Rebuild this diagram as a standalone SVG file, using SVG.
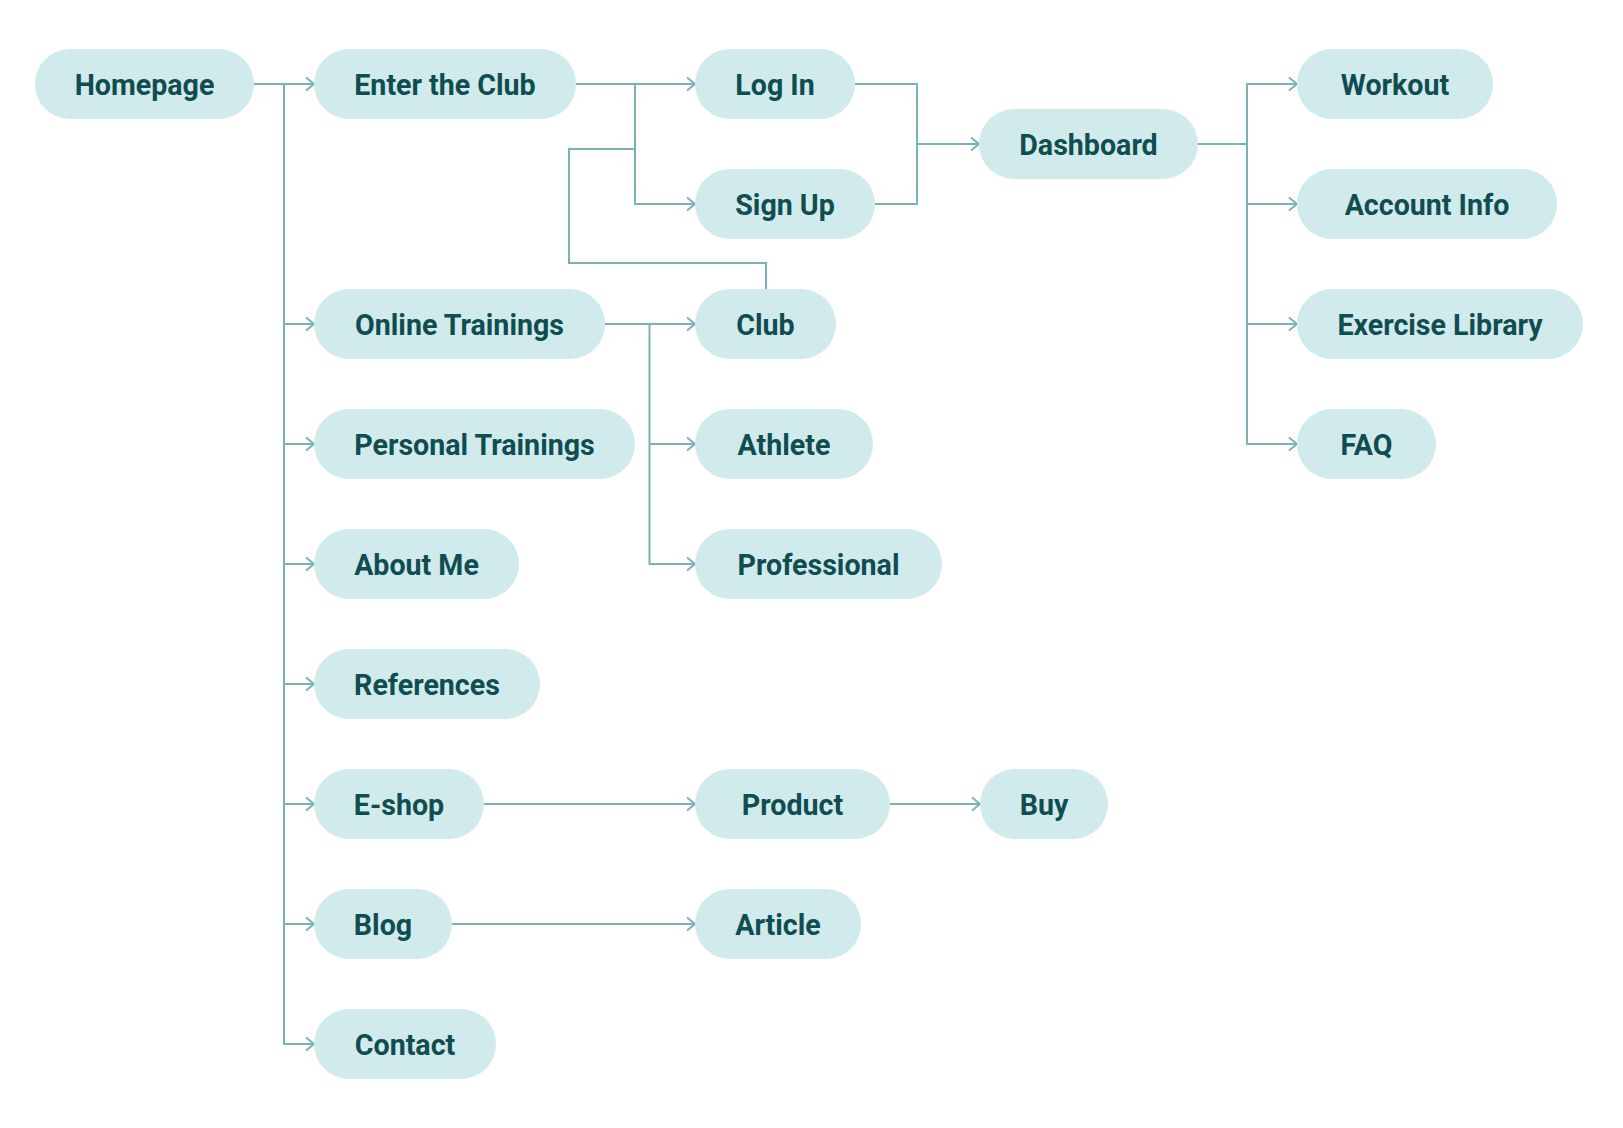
<svg xmlns="http://www.w3.org/2000/svg" width="1623" height="1128" viewBox="0 0 1623 1128">
<style>
.n rect{fill:#d1eaec}
.n text{font-family:Roboto,"Liberation Sans",sans-serif;font-weight:700;font-size:28.6px;fill:#0f4d50;text-anchor:middle}
.c path{fill:none;stroke:#7ab3b6;stroke-width:2}
</style>
<defs>
<marker id="a" markerUnits="userSpaceOnUse" markerWidth="14" markerHeight="18" viewBox="-11 -9 14 18" refX="0" refY="0" orient="auto" overflow="visible">
<path d="M-8,-6.5 L0,0 L-8,6.5" fill="none" stroke="#7ab3b6" stroke-width="2"/>
</marker>
</defs>
<rect width="1623" height="1128" fill="#ffffff"/>
<g class="c">
<path d="M254 84 H314" marker-end="url(#a)"/>
<path d="M284 84 V1044"/>
<path d="M284 324 H314" marker-end="url(#a)"/>
<path d="M284 444 H314" marker-end="url(#a)"/>
<path d="M284 564 H314" marker-end="url(#a)"/>
<path d="M284 684 H314" marker-end="url(#a)"/>
<path d="M284 804 H314" marker-end="url(#a)"/>
<path d="M284 924 H314" marker-end="url(#a)"/>
<path d="M283 1044 H314" marker-end="url(#a)"/>
<path d="M576 84 H695" marker-end="url(#a)"/>
<path d="M635 84 V204 H695" marker-end="url(#a)"/>
<path d="M635 149 H569 V263 H766 V289"/>
<path d="M855 84 H917 V204 H875"/>
<path d="M917 144 H979" marker-end="url(#a)"/>
<path d="M1198 144 H1247"/>
<path d="M1247 84 V444"/>
<path d="M1246 84 H1297" marker-end="url(#a)"/>
<path d="M1247 204 H1297" marker-end="url(#a)"/>
<path d="M1247 324 H1297" marker-end="url(#a)"/>
<path d="M1246 444 H1297" marker-end="url(#a)"/>
<path d="M605 324 H695" marker-end="url(#a)"/>
<path d="M649.5 324 V564 H695" marker-end="url(#a)"/>
<path d="M649.5 444 H695" marker-end="url(#a)"/>
<path d="M484 804 H695" marker-end="url(#a)"/>
<path d="M890 804 H980" marker-end="url(#a)"/>
<path d="M452 924 H695" marker-end="url(#a)"/>
</g>
<g id="homepage" class="n"><rect x="35" y="49" width="219" height="70" rx="35"/><text x="144.5" y="95">Homepage</text></g>
<g id="enter-club" class="n"><rect x="314" y="49" width="262" height="70" rx="35"/><text x="445" y="95">Enter the Club</text></g>
<g id="log-in" class="n"><rect x="695" y="49" width="160" height="70" rx="35"/><text x="775" y="95">Log In</text></g>
<g id="sign-up" class="n"><rect x="695" y="169" width="180" height="70" rx="35"/><text x="785" y="215">Sign Up</text></g>
<g id="dashboard" class="n"><rect x="979" y="109" width="219" height="70" rx="35"/><text x="1088.5" y="155">Dashboard</text></g>
<g id="workout" class="n"><rect x="1297" y="49" width="196" height="70" rx="35"/><text x="1395" y="95">Workout</text></g>
<g id="account-info" class="n"><rect x="1297" y="169" width="260" height="70" rx="35"/><text x="1427" y="215">Account Info</text></g>
<g id="exercise-library" class="n"><rect x="1297" y="289" width="286" height="70" rx="35"/><text x="1440" y="335">Exercise Library</text></g>
<g id="faq" class="n"><rect x="1297" y="409" width="139" height="70" rx="35"/><text x="1366.5" y="455">FAQ</text></g>
<g id="online-trainings" class="n"><rect x="314" y="289" width="291" height="70" rx="35"/><text x="459.5" y="335">Online Trainings</text></g>
<g id="personal-trainings" class="n"><rect x="314" y="409" width="321" height="70" rx="35"/><text x="474.5" y="455">Personal Trainings</text></g>
<g id="about-me" class="n"><rect x="314" y="529" width="205" height="70" rx="35"/><text x="416.5" y="575">About Me</text></g>
<g id="references" class="n"><rect x="314" y="649" width="226" height="70" rx="35"/><text x="427" y="695">References</text></g>
<g id="e-shop" class="n"><rect x="314" y="769" width="170" height="70" rx="35"/><text x="399" y="815">E-shop</text></g>
<g id="blog" class="n"><rect x="314" y="889" width="138" height="70" rx="35"/><text x="383" y="935">Blog</text></g>
<g id="contact" class="n"><rect x="314" y="1009" width="182" height="70" rx="35"/><text x="405" y="1055">Contact</text></g>
<g id="club" class="n"><rect x="695" y="289" width="141" height="70" rx="35"/><text x="765.5" y="335">Club</text></g>
<g id="athlete" class="n"><rect x="695" y="409" width="178" height="70" rx="35"/><text x="784" y="455">Athlete</text></g>
<g id="professional" class="n"><rect x="695" y="529" width="247" height="70" rx="35"/><text x="818.5" y="575">Professional</text></g>
<g id="product" class="n"><rect x="695" y="769" width="195" height="70" rx="35"/><text x="792.5" y="815">Product</text></g>
<g id="buy" class="n"><rect x="980" y="769" width="128" height="70" rx="35"/><text x="1044" y="815">Buy</text></g>
<g id="article" class="n"><rect x="695" y="889" width="166" height="70" rx="35"/><text x="778" y="935">Article</text></g>
</svg>
